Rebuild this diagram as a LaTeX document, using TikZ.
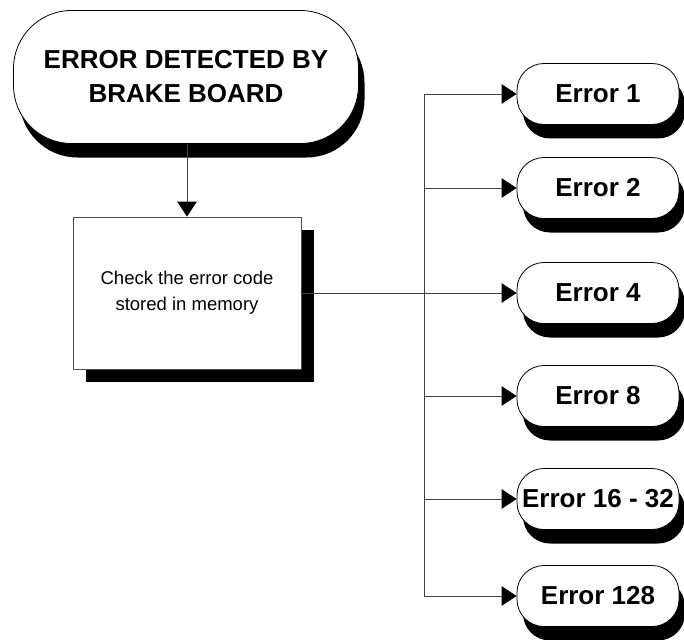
\documentclass[tikz,border=0pt]{standalone}
\usepackage{fontspec}
\setmainfont{Liberation Sans}
\usetikzlibrary{arrows.meta,shadows}
\begin{document}
\begin{tikzpicture}[x=1pt,y=-1pt,
  line/.style={draw=black!75, line width=0.9pt},
  arr/.style={line, -{Triangle[width'=0pt 1.3, length=15pt 0 0, color=black]}},
  shad/.style={drop shadow={shadow xshift=6pt, shadow yshift=-14pt, fill=black, opacity=1}},
  term/.style={draw, fill=white, line width=0.8pt, shad, font=\bfseries\fontsize{26}{34}\selectfont, align=center, inner sep=0pt},
  errnode/.style={term, minimum width=162pt, minimum height=61pt, rounded corners=27pt},
  procbox/.style={draw=black!70, fill=white, line width=0.8pt, minimum width=228pt, minimum height=152pt, align=center,
    font=\fontsize{18.5}{26}\selectfont,
    drop shadow={shadow xshift=13pt, shadow yshift=-13pt, fill=black, opacity=1}}
]
\useasboundingbox (0,0) rectangle (684,639);
\node[term, minimum width=345pt, minimum height=133pt, rounded corners=58pt] (top) at (186,77) {ERROR DETECTED BY\\BRAKE BOARD};
\node[procbox] (box) at (187,293) {Check the error code\\stored in memory};
\node[errnode] (e1) at (598,94) {Error 1};
\node[errnode] (e2) at (598,188) {Error 2};
\node[errnode] (e4) at (598,293) {Error 4};
\node[errnode] (e8) at (598,396) {Error 8};
\node[errnode] (e16) at (598,499) {Error 16 - 32};
\node[errnode] (e128) at (598,596) {Error 128};
\coordinate (J) at (424,293);
\draw[arr] (top.south -| box.north) -- (box.north);
\draw[line] (box.east) -- (J);
\draw[arr] (J |- e1.west) -- (e1.west);
\draw[line] (J |- e1.west) -- (J |- e128.west);
\draw[arr] (J |- e128.west) -- (e128.west);
\draw[arr] (J |- e2.west) -- (e2.west);
\draw[arr] (J |- e4.west) -- (e4.west);
\draw[arr] (J |- e8.west) -- (e8.west);
\draw[arr] (J |- e16.west) -- (e16.west);
\end{tikzpicture}
\end{document}
